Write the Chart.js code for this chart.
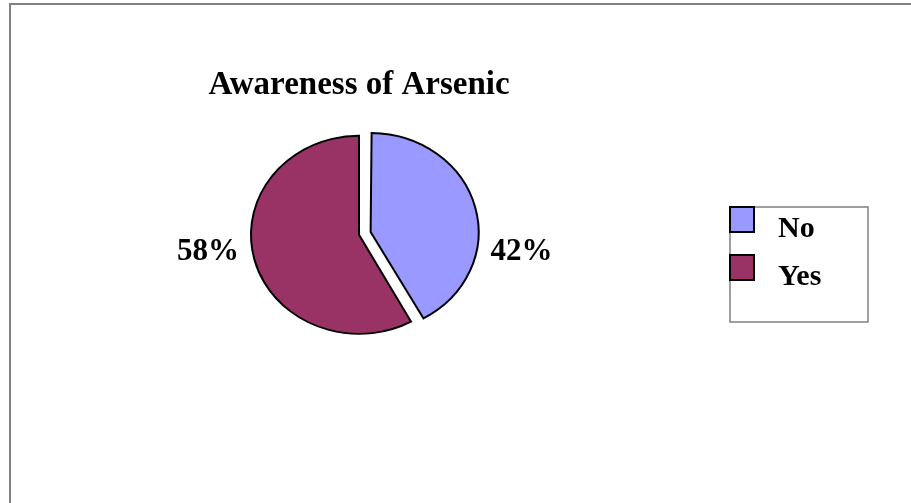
<!DOCTYPE html>
<html>
<head>
<meta charset="utf-8">
<title>Awareness of Arsenic</title>
<script src="https://cdn.jsdelivr.net/npm/chart.js@4.4.0/dist/chart.umd.min.js"></script>
<style>
  body { margin: 0; background: #fff; overflow: hidden; }
  #frame {
    position: absolute; left: 9px; top: 3px;
    width: 1000px; height: 1000px;
    border-left: 2px solid #808080; border-top: 2px solid #808080;
  }
  #pieChart { position: absolute; left: 0; top: 0; }
</style>
</head>
<body>
<div id="frame"></div>
<canvas id="pieChart" width="911" height="503"></canvas>
<script>
var answers = ["No", "Yes"]
var percents = [42, 58]
var sliceColors = ["#9999FF", "#993366"]
var chartTitle = "Awareness of Arsenic"

var serif = "'Liberation Serif', 'Times New Roman', serif"

// squash the pie into an ellipse and put the percent next to each slice
var ellipsePie = {
  id: "ellipsePie",
  afterDatasetsUpdate: function(chart) {
    // chart.js grows an exploded arc a bit, keep it the same size as the rest
    chart.getDatasetMeta(0).data.forEach(function(arc) {
      var off = (arc.options.offset || 0) / 4
      var fix = 1 - Math.sin(Math.min(Math.PI, arc.circumference))
      arc.outerRadius -= off * fix
    })
  },
  beforeDatasetsDraw: function(chart) {
    var arc = chart.getDatasetMeta(0).data[0]
    var ctx = chart.ctx
    ctx.save()
    ctx.translate(arc.x, arc.y)
    ctx.scale(1, 0.917)
    ctx.translate(-arc.x, -arc.y)
  },
  afterDatasetsDraw: function(chart) {
    var ctx = chart.ctx
    ctx.restore()

    var meta = chart.getDatasetMeta(0)
    var radius = meta.controller.outerRadius
    var values = chart.data.datasets[0].data
    ctx.save()
    ctx.font = "bold 31px " + serif
    ctx.fillStyle = "#000"
    ctx.textBaseline = "middle"
    meta.data.forEach(function(arc, i) {
      var mid = (arc.startAngle + arc.endAngle) / 2
      var side = Math.cos(mid) >= 0 ? 1 : -1
      // chart.js moves an exploded arc by a quarter of its offset
      var shift = Math.cos(mid) * arc.options.offset / 4
      var x = arc.x + shift + side * (radius + 12)
      ctx.textAlign = side > 0 ? "left" : "right"
      ctx.fillText(values[i] + "%", x, arc.y + 17)
    })
    ctx.restore()
  },
  afterDraw: function(chart) {
    var ctx = chart.ctx
    var ds = chart.data.datasets[0]
    var lx = 730, ly = 207

    ctx.save()
    ctx.strokeStyle = "#808080"
    ctx.lineWidth = 1.5
    ctx.strokeRect(lx, ly, 138, 115)

    ctx.font = "bold 30px " + serif
    ctx.textAlign = "left"
    ctx.textBaseline = "middle"
    chart.data.labels.forEach(function(lbl, i) {
      var y = ly + i * 48
      ctx.fillStyle = ds.backgroundColor[i]
      ctx.fillRect(lx, y, 24, 25)
      ctx.strokeStyle = "#000"
      ctx.lineWidth = 2
      ctx.strokeRect(lx, y, 24, 25)
      ctx.fillStyle = "#000"
      ctx.fillText(lbl, lx + 48, y + 22)
    })
    ctx.restore()
  }
}

var ctx = document.getElementById("pieChart").getContext("2d")
var chart = new Chart(ctx, {
  type: "pie",
  data: {
    labels: answers,
    datasets: [{
      data: percents,
      backgroundColor: sliceColors,
      borderColor: "#000",
      borderWidth: 2,
      borderJoinStyle: "miter",
      offset: [48, 0]
    }]
  },
  options: {
    responsive: false,
    animation: false,
    devicePixelRatio: 1,
    radius: 108,
    layout: {
      padding: { left: 11, right: 204, top: 0, bottom: 148 }
    },
    plugins: {
      legend: { display: false },
      tooltip: { enabled: false },
      title: {
        display: true,
        text: chartTitle,
        color: "#000",
        font: { family: serif, size: 33, weight: "bold" },
        padding: { top: 66, bottom: 9 }
      }
    }
  },
  plugins: [ellipsePie]
})
</script>
</body>
</html>
